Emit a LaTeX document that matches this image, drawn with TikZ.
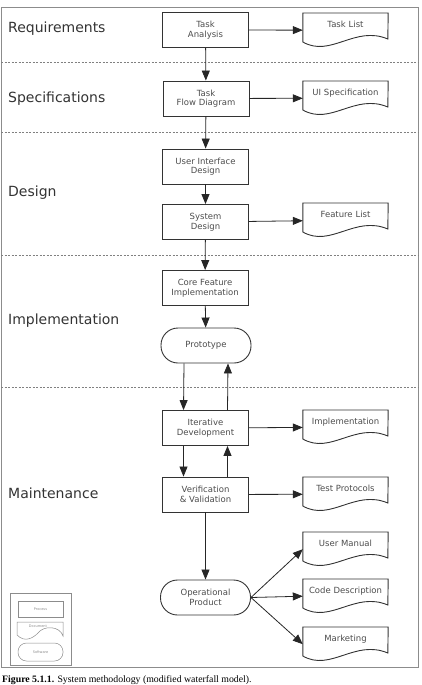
\documentclass[tikz,border=0pt]{standalone}
\usepackage{fontspec}
\setmainfont{Liberation Serif}
\newfontfamily\diafont{DejaVu Sans}
\usetikzlibrary{arrows.meta}

\tikzset{
	proc/.style={draw=black!80, line width=0.9pt, minimum width=86pt, minimum height=35pt, inner sep=0pt, align=center, font=\diafont\fontsize{8.5}{9.5}\selectfont, text=black!70},
	soft/.style={proc, minimum width=90pt, rounded corners=17pt},
	doc/.style={anchor=north, inner sep=0pt, text width=85pt, align=center, text height=14pt, text depth=20pt, font=\diafont\fontsize{8.5}{9.5}\selectfont, text=black!70,
		append after command={\pgfextra{\draw[draw=black!80, line width=0.9pt] (\tikzlastnode.north east) -- (\tikzlastnode.north west) -- ++(0,29) .. controls +(28,16) and +(-33,-14) .. ++(85,-3) -- cycle;}}},
	flow/.style={draw=black!85, line width=0.8pt, -{Triangle[length=10pt,width=8pt]}},
	phase/.style={anchor=west, inner sep=0pt, font=\diafont\fontsize{14}{16}\selectfont, text=black!80},
	sep/.style={draw=black!50, line width=0.6pt, dash pattern=on 2pt off 1.5pt},
	tiny/.style={draw=black!45, line width=0.5pt, inner sep=0pt, font=\diafont\fontsize{3.5}{4}\selectfont, text=black!45}
}

\begin{document}
\begin{tikzpicture}[x=1pt, y=-1pt]
		\useasboundingbox (0,0) rectangle (421,685);
		\draw[black!45, line width=0.8pt] (1,7) rectangle (418,667);
		
		\draw[sep] (1,62) -- (418,62);
		\draw[sep] (1,132) -- (418,132);
		\draw[sep] (1,255) -- (418,255);
		\draw[sep] (1,387) -- (418,387);
		
		\node[phase] (req) at (8,29) {Requirements};
		\node[phase] (spec) at (8,99) {Specifications};
		\node[phase] (des) at (8,193) {Design};
		\node[phase] (imp) at (8,321) {Implementation};
		\node[phase] (mnt) at (8,493) {Maintenance};
		
		\node[proc] (ta) at (205.5,30) {Task\\Analysis};
		\node[proc] (tfd) at (206,98.5) {Task\\Flow Diagram};
		\node[proc] (uid) at (205.5,166.5) {User Interface\\Design};
		\node[proc] (sd) at (205.5,222) {System\\Design};
		\node[proc] (cfi) at (205,288) {Core Feature\\Implementation};
		\node[soft] (proto) at (206,345.5) {Prototype};
		\node[proc] (itd) at (205.5,428) {Iterative\\Development};
		\node[proc] (vv) at (205.5,494.5) {Verification\\\& Validation};
		\node[soft] (op) at (205.5,597.5) {Operational\\Product};
		
		\node[doc] (tl) at (345.5,13) {Task List};
		\node[doc] (uis) at (345.5,81) {UI Specification};
		\node[doc] (fl) at (345.5,203) {Feature List};
		\node[doc] (impl) at (345.5,410) {Implementation};
		\node[doc] (tp) at (345.5,477) {Test Protocols};
		\node[doc] (um) at (345.5,532) {User Manual};
		\node[doc] (cd) at (345.5,579) {Code Description};
		\node[doc] (mk) at (345.5,627) {Marketing};
		
		\draw[flow] (ta) -- (tl);
		\draw[flow] (ta) -- (tfd);
		\draw[flow] (tfd) -- (uis);
		\draw[flow] (tfd) -- (uid);
		\draw[flow] (uid) -- (sd);
		\draw[flow] (sd) -- (fl);
		\draw[flow] (sd) -- (cfi);
		\draw[flow] (cfi) -- (proto);
		\draw[flow] ([xshift=-22pt]proto.south) -- ([xshift=-22pt]itd.north);
		\draw[flow] ([xshift=22pt]itd.north) -- ([xshift=22pt]proto.south);
		\draw[flow] (itd) -- (impl);
		\draw[flow] ([xshift=-22pt]itd.south) -- ([xshift=-22pt]vv.north);
		\draw[flow] ([xshift=22pt]vv.north) -- ([xshift=22pt]itd.south);
		\draw[flow] (vv) -- (tp);
		\draw[flow] (vv) -- (op);
		\draw[flow] (op.east) -- (um.west);
		\draw[flow] (op.east) -- (cd.west);
		\draw[flow] (op.east) -- (mk.west);
		
		\draw[black!45, line width=0.6pt] (10,593) rectangle (71,665);
		\node[tiny, minimum width=45pt, minimum height=16pt] (lproc) at (40.5,609) {Process};
		\draw[black!45, line width=0.5pt] (17,635) -- (17,622) -- (63,622) -- (63,636) .. controls (60,626) and (44,625) .. (38,633) .. controls (33,638) and (25,643) .. (17,635);
		\node[font=\diafont\fontsize{3.5}{4}\selectfont, text=black!45, inner sep=0pt] (ldoc) at (38,626.5) {Document};
		\node[tiny, minimum width=45pt, minimum height=18pt, rounded corners=8.5pt] (lsoft) at (40.5,652) {Software};
		
		\node[anchor=base west, inner sep=0pt, font=\fontsize{9.8}{11}\selectfont] (cap) at (2,682) {\textbf{Figure 5.1.1.} System methodology (modified waterfall model).};
	\end{tikzpicture}
\end{document}
